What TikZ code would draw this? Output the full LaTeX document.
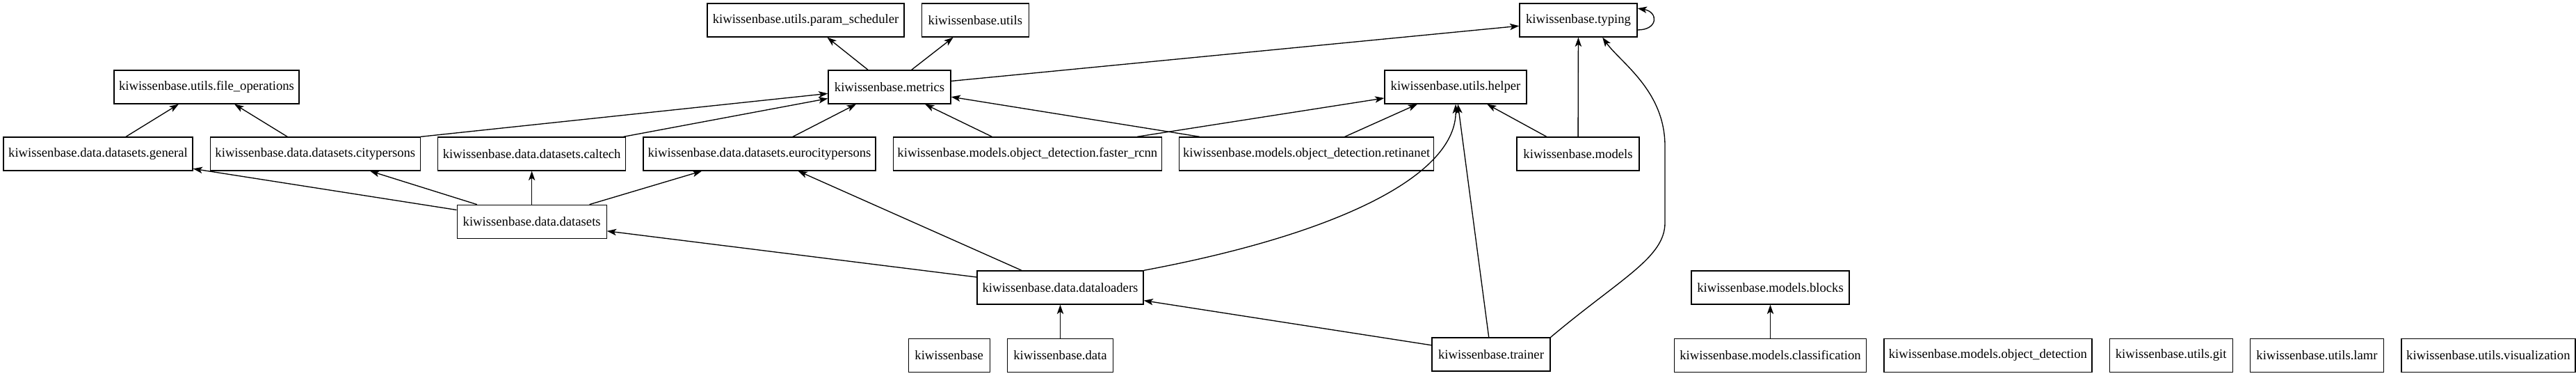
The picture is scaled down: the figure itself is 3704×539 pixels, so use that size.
\documentclass[tikz,border=0pt]{standalone}
\usepackage{fontspec}
\setmainfont{Liberation Serif}
\usetikzlibrary{positioning, arrows.meta}

\begin{document}
\begin{tikzpicture}[
      x = 0.75pt, y = -0.75pt,
      node distance = 18pt,
      mod/.style={rectangle, draw, line width = 1pt, minimum height = 36pt,
                  inner xsep = 2pt, inner ysep = 0pt,
                  font = \fontsize{14pt}{16pt}\selectfont},
      dep/.style={-{Stealth[length = 10pt, width = 7pt, inset = 2.5pt]}, line width = 1pt},
    ]
      \useasboundingbox (0,0) rectangle (3704,539);

      % top row
      \node[mod, minimum width = 212.25pt] (psched) at (1158.5,29) {kiwissenbase.utils.param\_scheduler};
      \node[mod, right = of psched, minimum width = 115.5pt] (utils) {kiwissenbase.utils};
      \node[mod, minimum width = 126.75pt] (typing) at (2269.5,29) {kiwissenbase.typing};

      % second row
      \node[mod, minimum width = 199.5pt] (fileops) at (297,125) {kiwissenbase.utils.file\_operations};
      \node[mod, minimum width = 132pt] (metrics) at (1279,125) {kiwissenbase.metrics};
      \node[mod, minimum width = 153pt] (helper) at (2093,125) {kiwissenbase.utils.helper};

      % third row
      \node[mod, minimum width = 204pt] (general) at (141,221) {kiwissenbase.data.datasets.general};
      \node[mod, right = of general, minimum width = 226.5pt] (cityp) {kiwissenbase.data.datasets.citypersons};
      \node[mod, right = of cityp, minimum width = 202.5pt] (caltech) {kiwissenbase.data.datasets.caltech};
      \node[mod, right = of caltech, minimum width = 250.5pt] (eurocp) {kiwissenbase.data.datasets.eurocitypersons};
      \node[mod, right = of eurocp, minimum width = 289.5pt] (frcnn) {kiwissenbase.models.object\_detection.faster\_rcnn};
      \node[mod, right = of frcnn, minimum width = 274.5pt] (retina) {kiwissenbase.models.object\_detection.retinanet};
      \node[mod, minimum width = 132pt] (models) at (2269,221) {kiwissenbase.models};

      % fourth row
      \node[mod, below = 36pt of caltech, minimum width = 161.25pt] (datasets) {kiwissenbase.data.datasets};

      % fifth row
      \node[mod, minimum width = 179.25pt] (loaders) at (1524.5,413) {kiwissenbase.data.dataloaders};
      \node[mod, minimum width = 170.25pt] (blocks) at (2545.5,413) {kiwissenbase.models.blocks};

      % bottom row
      \node[mod, below = 36pt of loaders, minimum width = 114pt] (data) {kiwissenbase.data};
      \node[mod, left = of data, minimum width = 87.75pt] (kiwi) {kiwissenbase};
      \node[mod, minimum width = 127.5pt] (trainer) at (2144,509) {kiwissenbase.trainer};
      \node[mod, below = 36pt of blocks, minimum width = 207pt] (classif) {kiwissenbase.models.classification};
      \node[mod, right = of classif, minimum width = 224.25pt] (objdet) {kiwissenbase.models.object\_detection};
      \node[mod, right = of objdet, minimum width = 132.75pt] (git) {kiwissenbase.utils.git};
      \node[mod, right = of git, minimum width = 144pt] (lamr) {kiwissenbase.utils.lamr};
      \node[mod, right = of lamr, minimum width = 187.5pt] (vis) {kiwissenbase.utils.visualization};

      % imports
      \draw[dep] (general) -- (fileops);
      \draw[dep] (cityp) -- (fileops);
      \draw[dep] (cityp.north east) -- (metrics);
      \draw[dep] (caltech) -- (metrics);
      \draw[dep] (eurocp) -- (metrics);
      \draw[dep] (frcnn) -- (metrics);
      \draw[dep] (retina) -- (metrics);
      \draw[dep] (frcnn) -- (helper);
      \draw[dep] (retina) -- (helper);
      \draw[dep] (models) -- (helper);
      \draw[dep] (models) -- (typing);
      \draw[dep] (metrics) -- (typing);
      \draw[dep] (metrics) -- (psched);
      \draw[dep] (metrics) -- (utils);
      \draw[dep] ([yshift=-10.5pt]typing.east)
        .. controls +(30,0) and +(30,5) ..
        ([yshift=12.75pt]typing.east);

      \draw[dep] (datasets) -- (general);
      \draw[dep] (datasets) -- (cityp);
      \draw[dep] (datasets) -- (caltech);
      \draw[dep] (datasets) -- (eurocp);

      \draw[dep] (loaders) -- (eurocp);
      \draw[dep] (loaders) -- (datasets);
      \draw[dep] (loaders.north east)
        .. controls (1930,335) and (2095,250) ..
        (helper.south);

      \draw[dep] (data) -- (loaders);
      \draw[dep] (trainer) -- (loaders);
      \draw[dep] (trainer) -- (helper);
      \draw[dep] (trainer.north east)
        .. controls (2330,400) and (2394,370) ..
        (2394,320) -- (2394,210)
        .. controls (2394,130) and (2330,90) ..
        ([xshift=26pt]typing.south);

      \draw[dep] (classif) -- (blocks);

    \end{tikzpicture}
\end{document}
